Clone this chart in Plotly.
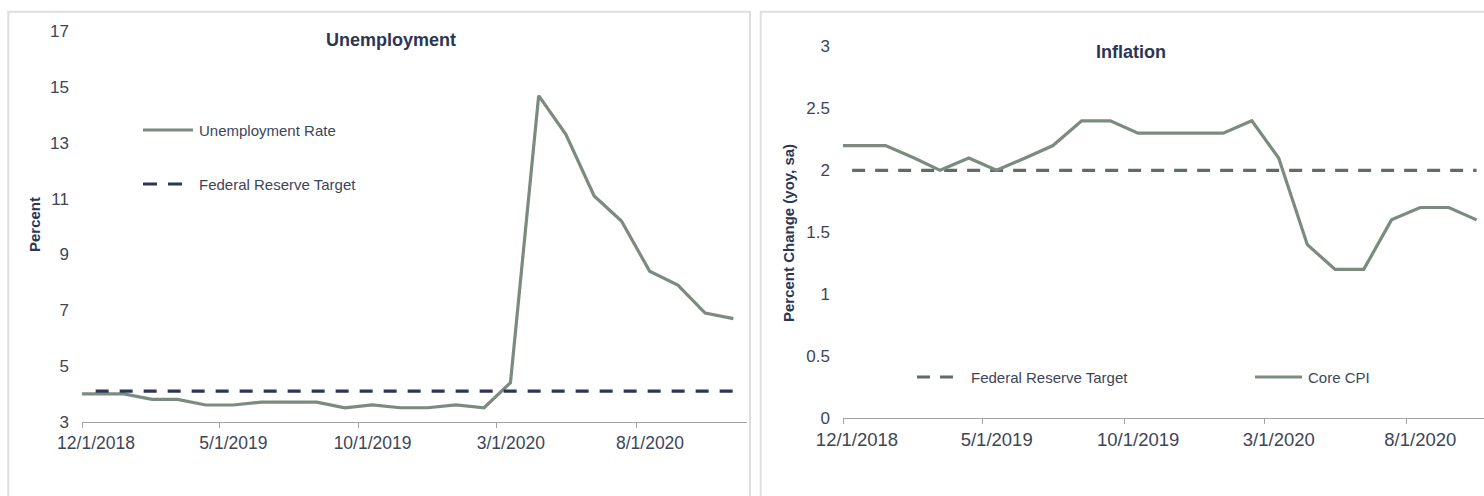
import pandas as pd
import plotly.graph_objects as go

# ---- data -------------------------------------------------------------
unemp_months = [
    "2018-11", "2018-12",
    "2019-01", "2019-02", "2019-03", "2019-04", "2019-05", "2019-06",
    "2019-07", "2019-08", "2019-09", "2019-10", "2019-11", "2019-12",
    "2020-01", "2020-02", "2020-03", "2020-04", "2020-05", "2020-06",
    "2020-07", "2020-08", "2020-09", "2020-10", "2020-11",
]
unemp_rate = [
    4.0, 4.0,
    4.0, 3.8, 3.8, 3.6, 3.6, 3.7,
    3.7, 3.7, 3.5, 3.6, 3.5, 3.5,
    3.6, 3.5, 4.4, 14.7, 13.3, 11.1,
    10.2, 8.4, 7.9, 6.9, 6.7,
]
unemp_target_months = unemp_months[1:]
unemp_target = [4.1] * len(unemp_target_months)

cpi_months = [
    "2018-11", "2018-12",
    "2019-01", "2019-02", "2019-03", "2019-04", "2019-05", "2019-06",
    "2019-07", "2019-08", "2019-09", "2019-10", "2019-11", "2019-12",
    "2020-01", "2020-02", "2020-03", "2020-04", "2020-05", "2020-06",
    "2020-07", "2020-08", "2020-09", "2020-10",
]
core_cpi = [
    2.2, 2.2,
    2.2, 2.1, 2.0, 2.1, 2.0, 2.1,
    2.2, 2.4, 2.4, 2.3, 2.3, 2.3,
    2.3, 2.4, 2.1, 1.4, 1.2, 1.2,
    1.6, 1.7, 1.7, 1.6,
]
cpi_target = [2.0] * len(cpi_months)

unemp_ticks = [3, 5, 7, 9, 11, 13, 15, 17]
cpi_ticks = [0, 0.5, 1, 1.5, 2, 2.5, 3]


def mid_month(months):
    # monthly observations sit in the middle of their month
    return [pd.Timestamp(m + "-01") + pd.Timedelta(days=15) for m in months]


# ---- styling -----------------------------------------------------------
W, H = 1484, 496
SAGE = "#7b8c7f"
NAVY = "#2c3654"
SAGE_DARK = "#5f6d64"
TEXT = "#3d4558"
AXIS = "#a3a3a3"
BORDER = "#dedede"
FONT = "Liberation Sans"


def px_x(x):
    return x / W


def px_y(y):
    return 1 - y / H


fig = go.Figure()

fig.add_trace(go.Scatter(
    x=mid_month(unemp_months), y=unemp_rate, mode="lines",
    line=dict(color=SAGE, width=3.2), xaxis="x", yaxis="y",
    name="Unemployment Rate", showlegend=False,
))
fig.add_trace(go.Scatter(
    x=mid_month(unemp_target_months), y=unemp_target, mode="lines",
    line=dict(color=NAVY, width=3.2, dash="13px,11px"), xaxis="x", yaxis="y",
    name="Federal Reserve Target", showlegend=False,
))
fig.add_trace(go.Scatter(
    x=mid_month(cpi_months), y=cpi_target, mode="lines",
    line=dict(color=SAGE_DARK, width=3.2, dash="13px,10px"), xaxis="x2", yaxis="y2",
    name="Federal Reserve Target", showlegend=False,
))
fig.add_trace(go.Scatter(
    x=mid_month(cpi_months), y=core_cpi, mode="lines",
    line=dict(color=SAGE, width=3.2), xaxis="x2", yaxis="y2",
    name="Core CPI", showlegend=False,
))

# month labels sit under the middle of their month, half a month right of the tick
xcommon = dict(
    type="date", tickformat="%-m/%-d/%Y", tick0="2018-12-01", dtick="M5",
    showline=True, linecolor=AXIS, linewidth=1,
    ticks="outside", ticklen=5, tickcolor=AXIS, tickwidth=1,
    showgrid=False, zeroline=False, automargin=False,
    ticklabelstandoff=0,
)
ycommon = dict(
    showline=False, ticks="", showgrid=False, zeroline=False, automargin=False,
    tickfont=dict(family=FONT, size=17, color=TEXT), ticklabelstandoff=12,
)

fig.update_layout(
    width=W, height=H,
    margin=dict(l=0, r=0, t=0, b=0),
    paper_bgcolor="white", plot_bgcolor="white",
    template="none",
    showlegend=False,
    xaxis=dict(xcommon, domain=[px_x(82), px_x(747)],
               range=["2018-12-01", "2020-12-01"], anchor="y",
               ticklabelshift=14,
               tickfont=dict(family=FONT, size=17.5, color=TEXT)),
    yaxis=dict(ycommon, domain=[px_y(421.7), px_y(31.5)], range=[3, 17],
               tickvals=unemp_ticks, anchor="x"),
    xaxis2=dict(xcommon, domain=[px_x(843), 1.0],
                range=["2018-12-01", "2020-10-24"], anchor="y2",
                ticklabelshift=14,
                tickfont=dict(family=FONT, size=18.5, color=TEXT)),
    yaxis2=dict(ycommon, domain=[px_y(418), px_y(46.5)], range=[0, 3],
                tickvals=cpi_ticks, anchor="x2"),
)

# panel frames
shapes = [
    dict(type="rect", xref="paper", yref="paper",
         x0=px_x(8.3), x1=px_x(750), y0=-0.2, y1=px_y(11.7),
         line=dict(color=BORDER, width=2), fillcolor="rgba(0,0,0,0)", layer="below"),
    dict(type="rect", xref="paper", yref="paper",
         x0=px_x(760.7), x1=1.2, y0=-0.2, y1=px_y(11.7),
         line=dict(color=BORDER, width=2), fillcolor="rgba(0,0,0,0)", layer="below"),
]

# legend keys
def key(x0, x1, y, color, dash=None):
    ln = dict(color=color, width=3.2)
    if dash:
        ln["dash"] = dash
    return dict(type="line", xref="paper", yref="paper",
                x0=px_x(x0), x1=px_x(x1), y0=px_y(y), y1=px_y(y), line=ln)

shapes += [
    key(143, 193, 130, SAGE),
    key(143, 182, 184, NAVY, "14px,11px"),
    key(917, 953, 377, SAGE_DARK, "13px,10px"),
    key(1255, 1302, 377, SAGE),
]

annotations = []


def text(x, y, s, size, color=TEXT, bold=False, xanchor="left", angle=0):
    annotations.append(dict(
        xref="paper", yref="paper", x=px_x(x), y=px_y(y), text=s,
        showarrow=False, xanchor=xanchor, yanchor="middle", textangle=angle,
        font=dict(family=FONT, size=size, color=color,
                  weight="bold" if bold else "normal"),
    ))


text(197, 130, "Unemployment Rate", 15)
text(197, 184, "Federal Reserve Target", 15)
text(969, 377, "Federal Reserve Target", 15)
text(1306, 377, "Core CPI", 15)

text(390.5, 40, "Unemployment", 18, color=NAVY, bold=True, xanchor="center")
text(1131, 52, "Inflation", 18, color=NAVY, bold=True, xanchor="center")

text(34, 225, "Percent", 15, color=NAVY, bold=True, xanchor="center", angle=-90)
text(788, 233, "Percent Change (yoy, sa)", 15, color=NAVY, bold=True,
     xanchor="center", angle=-90)

fig.update_layout(shapes=shapes, annotations=annotations)

fig.write_html("out.html")
